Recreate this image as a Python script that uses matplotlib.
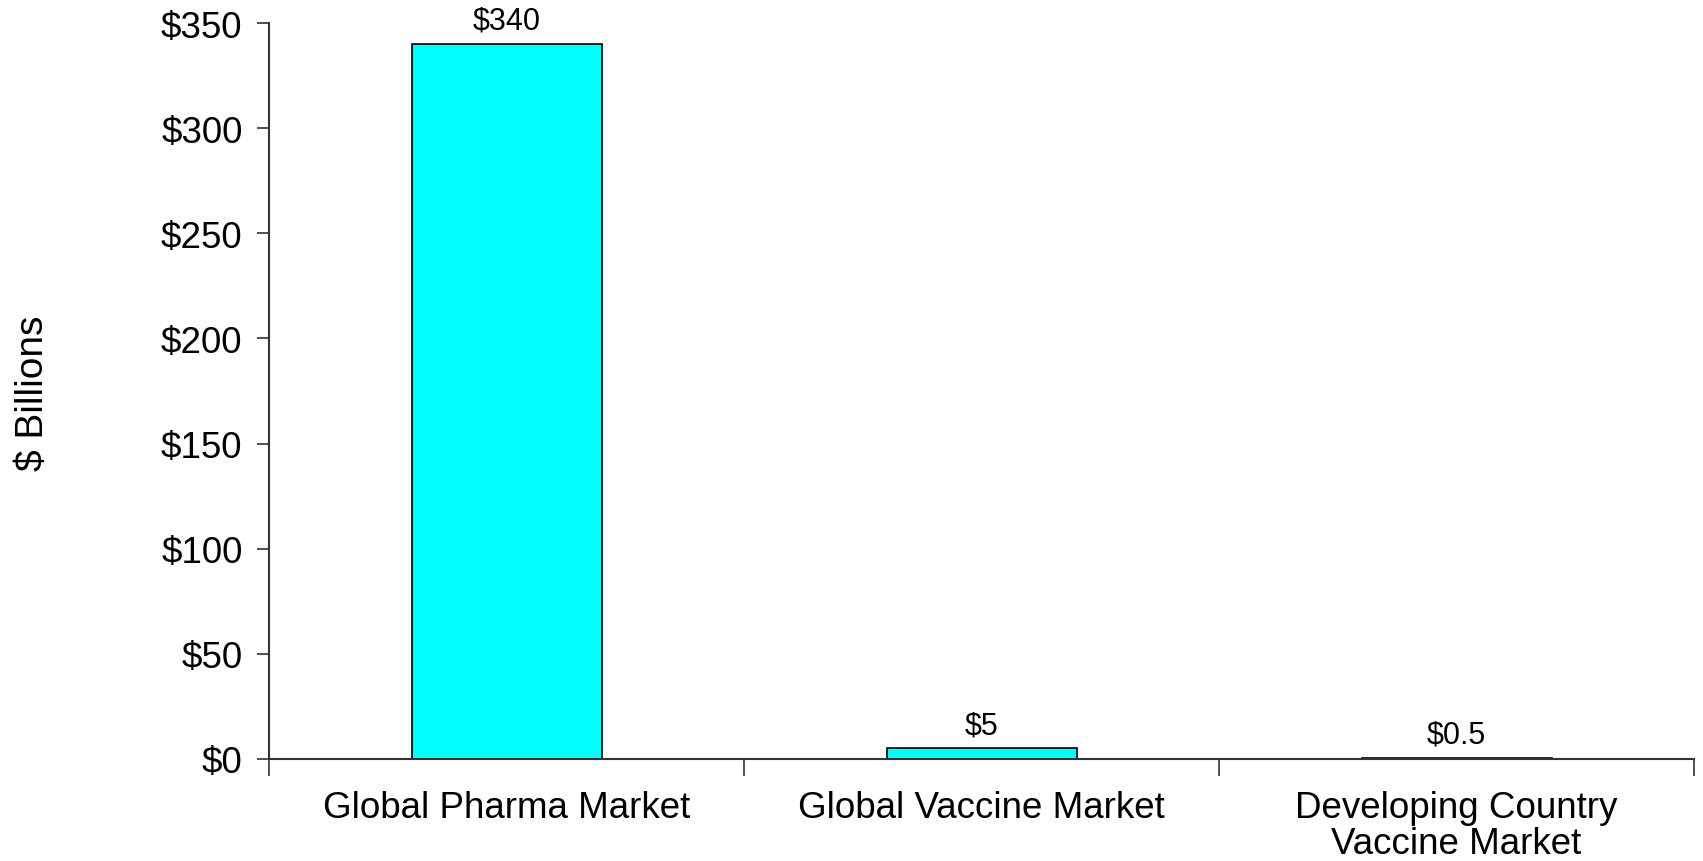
import matplotlib.pyplot as plt
from matplotlib.ticker import FuncFormatter

# data
categories = ['Global Pharma Market', 'Global Vaccine Market', 'Developing Country\nVaccine Market']
values = [340, 5, 0.5]
value_labels = ['$340', '$5', '$0.5']
yticks = [0, 50, 100, 150, 200, 250, 300, 350]

plt.rcParams['font.family'] = ['Liberation Sans', 'DejaVu Sans']

fig = plt.figure(figsize=(17.03, 8.62), dpi=100)
ax = fig.add_axes([269 / 1703, 102 / 862, 1425 / 1703, 736 / 862])

x = list(range(len(categories)))
bars = ax.bar(x, values, width=0.4, color='#00FFFF', edgecolor='black', linewidth=1.2)

# value labels above bars
for xi, v, lab in zip(x, values, value_labels):
    ax.annotate(lab, (xi, v), xytext=(0, 6), textcoords='offset points',
                ha='center', va='bottom', fontsize=22)

ax.set_xlim(-0.5, len(categories) - 0.5)
ax.set_ylim(0, 350)
ax.set_yticks(yticks)
ax.yaxis.set_major_formatter(FuncFormatter(lambda v, p: '$%d' % v))

# category boundaries get the tick marks, labels sit at the centres
ax.set_xticks([i - 0.5 for i in range(len(categories) + 1)])
ax.set_xticklabels([])
ax.set_xticks(x, minor=True)
ax.set_xticklabels(categories, minor=True, fontsize=26.5, linespacing=1.06)
ax.tick_params(axis='x', which='minor', length=0, pad=22)
ax.tick_params(axis='x', which='major', length=12, width=1.2, color='#333333', direction='out')
ax.tick_params(axis='y', length=9, width=1.2, color='#333333', labelsize=26.5, pad=10)

for s in ['top', 'right']:
    ax.spines[s].set_visible(False)
for s in ['left', 'bottom']:
    ax.spines[s].set_linewidth(1.5)
    ax.spines[s].set_color('#333333')

fig.text(33 / 1703, 1 - 393 / 862, '$ Billions', rotation=90, ha='center', va='center', fontsize=28)

fig.savefig('out.png', dpi=100)
